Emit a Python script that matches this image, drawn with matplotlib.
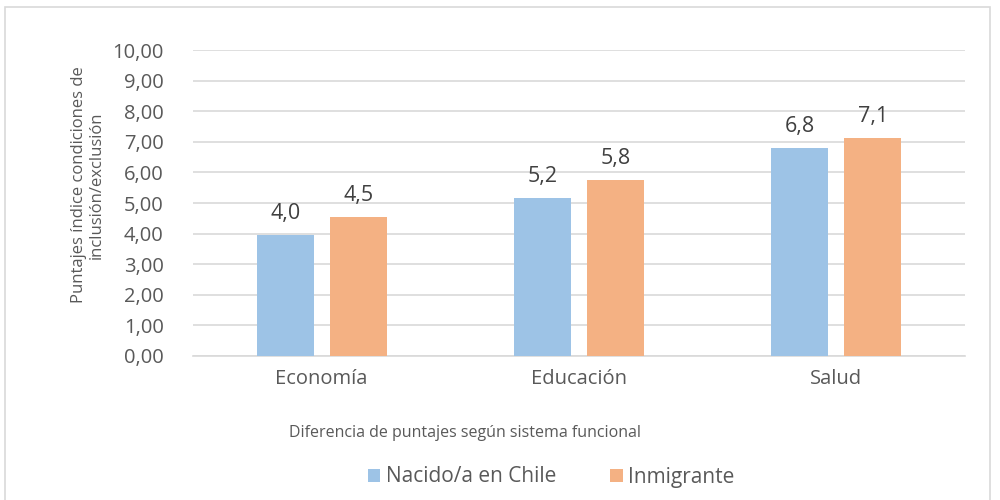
import matplotlib.pyplot as plt
import numpy as np
from matplotlib.patches import Rectangle

categories = ["Economía", "Educación", "Salud"]
nacido_chile = [3.96, 5.16, 6.81]
inmigrante = [4.54, 5.76, 7.11]
series_names = ["Nacido/a en Chile", "Inmigrante"]
y_ticks = np.arange(0, 11, 1)

plt.rcParams['font.family'] = ['Open Sans', 'DejaVu Sans']
txt = "#595959"

fig = plt.figure(figsize=(10, 5), dpi=100)
ax = fig.add_axes([0.193, 0.288, 0.772, 0.612])

# chart frame like the Excel chart area
fig.patches.append(Rectangle((0.005, -0.01), 0.985, 0.996, transform=fig.transFigure,
                             fill=False, edgecolor="#d9d9d9", linewidth=1.2))

x = np.arange(len(categories))
w = 0.222
off = 0.142
b1 = ax.bar(x - off, nacido_chile, w, color="#9dc3e6", label=series_names[0], zorder=3)
b2 = ax.bar(x + off, inmigrante, w, color="#f4b183", label=series_names[1], zorder=3)

for bars in (b1, b2):
    for r in bars:
        v = r.get_height()
        ax.text(r.get_x() + r.get_width() / 2, v + 0.36, f"{v:.1f}".replace(".", ","),
                ha="center", va="bottom", fontsize=15.5, color="#404040")

ax.set_xlim(-0.5, 2.5)
ax.set_ylim(0, 10)
ax.set_yticks(y_ticks)
ax.set_yticklabels([f"{t:.2f}".replace(".", ",") for t in y_ticks], fontsize=14.5, color=txt)
ax.set_xticks(x)
ax.set_xticklabels(categories, fontsize=14.5, color=txt)
ax.tick_params(axis="both", length=0)
ax.tick_params(axis="y", pad=21)
ax.tick_params(axis="x", pad=9)
ax.grid(axis="y", color="#d9d9d9", linewidth=1.2, zorder=0)
for s in ["top", "right", "left"]:
    ax.spines[s].set_visible(False)
ax.spines["bottom"].set_color("#d9d9d9")
ax.spines["bottom"].set_linewidth(1.2)

fig.text(0.088, 0.63, "Puntajes índice condiciones de\ninclusión/exclusión", rotation=90,
         ha="center", va="center", fontsize=12, color=txt, linespacing=1.2)
fig.text(0.465, 0.134, "Diferencia de puntajes según sistema funcional",
         ha="center", va="center", fontsize=11.5, color=txt)

fig.legend(handles=[b1, b2], labels=series_names, loc="center", bbox_to_anchor=(0.551, 0.046),
           ncol=2, frameon=False, fontsize=15, handlelength=0.6, handleheight=0.6,
           handletextpad=0.25, columnspacing=2.6, labelcolor=txt)

fig.savefig("out.png", dpi=100)
